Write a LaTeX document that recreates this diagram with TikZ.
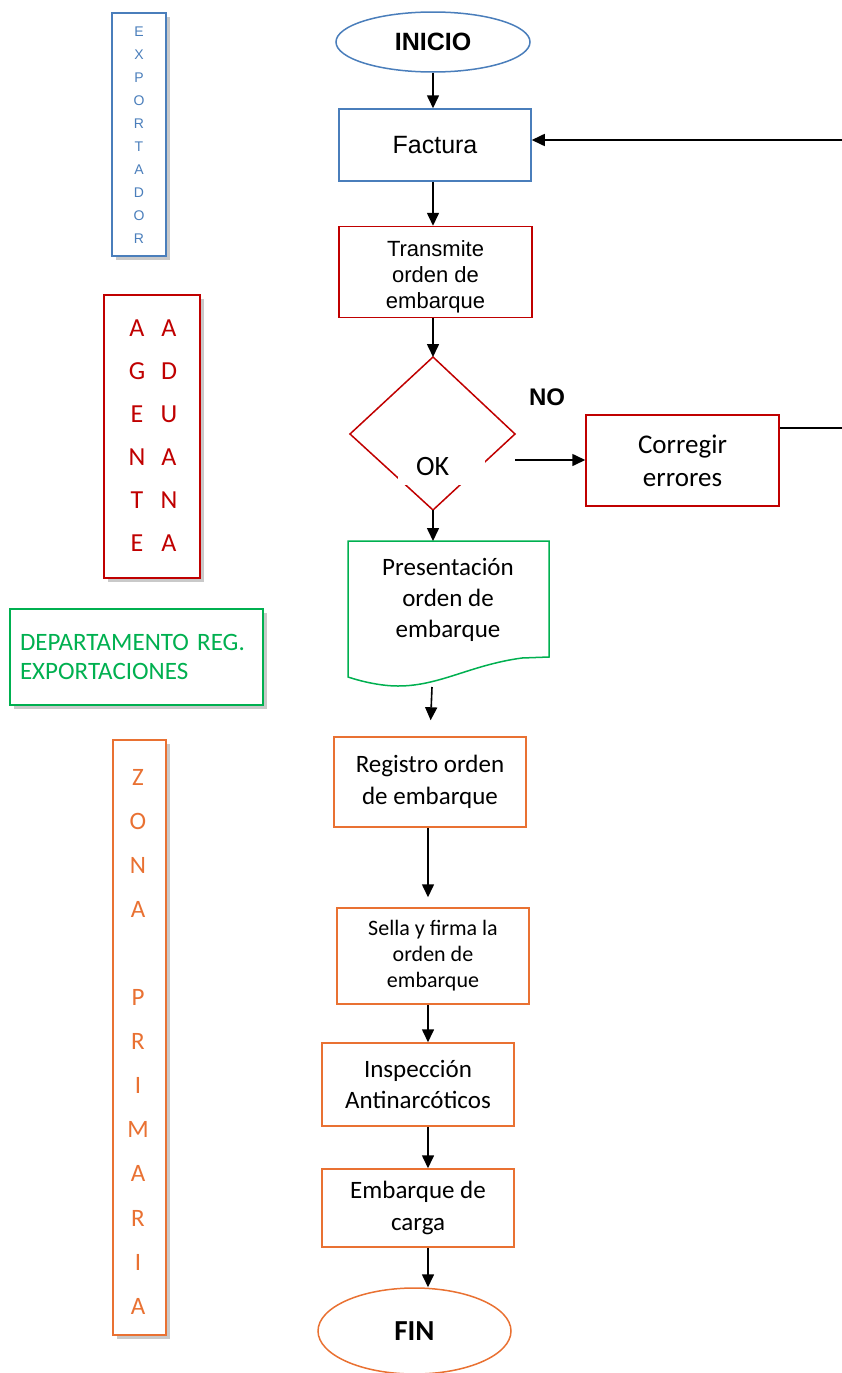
\documentclass[tikz,border=0pt]{standalone}
\usepackage{fontspec}
\setmainfont{Carlito}
\newfontfamily\arialf{Liberation Sans}
\usetikzlibrary{arrows.meta,shapes.geometric,shadows}
\definecolor{exblue}{HTML}{4A7EBB}
\definecolor{agred}{HTML}{C00000}
\definecolor{depgreen}{HTML}{00B050}
\definecolor{zporange}{HTML}{E97132}
\tikzset{
  lane/.style={draw,fill=white,line width=1.3pt,inner sep=0pt,
    drop shadow={shadow xshift=4pt,shadow yshift=-4pt,opacity=0.3,fill=black!70}},
  stepbox/.style={draw,fill=white,line width=1.5pt,inner sep=0pt,align=center,
    minimum width=192pt,font=\fontsize{25}{31.5}\selectfont},
  arr/.style={-{Triangle[length=13pt,width=12pt]},line width=1.6pt,black},
}
\begin{document}
\begin{tikzpicture}[x=1pt,y=-1pt]
\useasboundingbox (0,0) rectangle (841,1373);
% lanes
\node[lane,draw=exblue,minimum width=54pt,minimum height=243pt] (lexp) at (139,134.5) {};
\foreach \ch [count=\i from 0] in {E,X,P,O,R,T,A,D,O,R}
  \node[text=exblue,font=\arialf\fontsize{14}{14}\selectfont] (ex\i) at (139,{32+23*\i}) {\ch};
\node[lane,draw=agred,minimum width=96pt,minimum height=283pt] (lage) at (152,436.5) {};
\foreach \a/\b [count=\i from 0] in {A/A,G/D,E/U,N/A,T/N,E/A} {
  \node[text=agred,font=\fontsize{26}{26}\selectfont] (ag\i) at (137,{328+43*\i}) {\a};
  \node[text=agred,font=\fontsize{26}{26}\selectfont] (ad\i) at (169,{328+43*\i}) {\b};
}
\node[lane,draw=depgreen,text=depgreen,minimum height=96pt,text width=233pt,inner xsep=10pt,
  align=left,font=\fontsize{25}{29}\selectfont] (ldep) at (136.5,657) {DEPARTAMENTO REG.\\EXPORTACIONES};
\node[lane,draw=zporange,minimum width=53pt,minimum height=595pt] (lzon) at (139.5,1037.5) {};
\foreach \ch/\k in {Z/0,O/1,N/2,A/3,P/5,R/6,I/7,M/8,A/9,R/10,I/11,A/12}
  \node[text=zporange,font=\fontsize{25}{25}\selectfont] (zp\k) at (138,{777+44.1*\k}) {\ch};
% flow
\node[ellipse,draw=exblue,line width=1.5pt,minimum width=194pt,minimum height=60pt,
  font=\arialf\bfseries\fontsize{25}{25}\selectfont] (inicio) at (433,42) {INICIO};
\node[stepbox,draw=exblue,minimum height=72pt,font=\arialf\fontsize{25}{25}\selectfont] (fact) at (435,145) {Factura};
\node[stepbox,draw=agred,minimum width=193pt,minimum height=91pt,font=\arialf\fontsize{22}{26}\selectfont] (trans) at (435.5,272) {\rule{0pt}{26pt}Transmite\\orden de\\embarque};
\coordinate (dtop) at (433,357);
\coordinate (dright) at (515,434);
\coordinate (dbot) at (433,510);
\coordinate (dleft) at (350,434);
\draw[agred,line width=1.5pt] (dtop) -- (dright) -- (dbot) -- (dleft) -- cycle;
\node[fill=white,inner sep=0pt,minimum height=37pt,text width=87pt,align=left,
  font=\fontsize{28}{28}\selectfont] (ok) at (441.5,466.5) {\hspace*{18pt}OK};
\node[font=\arialf\bfseries\fontsize{24}{24}\selectfont] (no) at (547,397) {NO};
\node[stepbox,draw=agred,minimum width=193pt,minimum height=91pt,font=\fontsize{27}{33}\selectfont] (corr) at (682.5,460.5) {Corregir\\errores};
\draw[depgreen,line width=1.5pt] (348,541) -- (549,541) -- (549,657) -- (522,658)
  .. controls (470,665) and (440,686) .. (398,686)
  .. controls (380,686) and (360,681) .. (348,677) -- cycle;
\node[align=center,font=\fontsize{25}{31}\selectfont] (pres) at (448,600) {Presentación\\orden de\\embarque};
\coordinate (presbot) at (432,687);
\node[stepbox,draw=zporange,minimum height=90pt] (reg) at (430,782) {Registro orden\\de embarque};
\node[stepbox,draw=zporange,minimum height=96pt,font=\fontsize{22}{26}\selectfont] (sella) at (433,956) {Sella y firma la\\orden de\\embarque};
\node[stepbox,draw=zporange,minimum height=83pt] (insp) at (418,1084.5) {Inspección\\Antinarcóticos};
\node[stepbox,draw=zporange,minimum height=78pt] (emb) at (418,1208) {Embarque de\\carga};
\node[ellipse,draw=zporange,line width=1.5pt,minimum width=193pt,minimum height=86pt,
  font=\bfseries\fontsize{29}{29}\selectfont] (fin) at (414.5,1331) {FIN};
% connectors
\draw[arr] (inicio.south) -- (inicio.south |- fact.north);
\draw[arr] ([xshift=-2pt]fact.south) -- ([xshift=-2pt]fact.south |- trans.north);
\draw[arr] ([xshift=-2.5pt]trans.south) -- (dtop);
\draw[arr] (dbot) -- (dbot |- 0,541);
\coordinate (dout) at (515,460);
\draw[arr] (dout) -- (dout -| corr.west);
\coordinate (ret1) at (850,428);
\coordinate (ret2) at (850,140);
\draw[arr] (corr.east |- ret1) -- (ret1) -- (ret2) -- (fact.east |- ret2);
\draw[arr,shorten >=16pt] (presbot) -- (reg.north);
\draw[arr,shorten >=10pt] ([xshift=-2pt]reg.south) -- ([xshift=-2pt]reg.south |- sella.north);
\draw[arr] ([xshift=-5pt]sella.south) -- ([xshift=-5pt]sella.south |- insp.north);
\draw[arr] ([xshift=10pt]insp.south) -- ([xshift=10pt]insp.south |- emb.north);
\draw[arr] ([xshift=10pt]emb.south) -- ([xshift=10pt]emb.south |- fin.north);
\end{tikzpicture}
\end{document}
